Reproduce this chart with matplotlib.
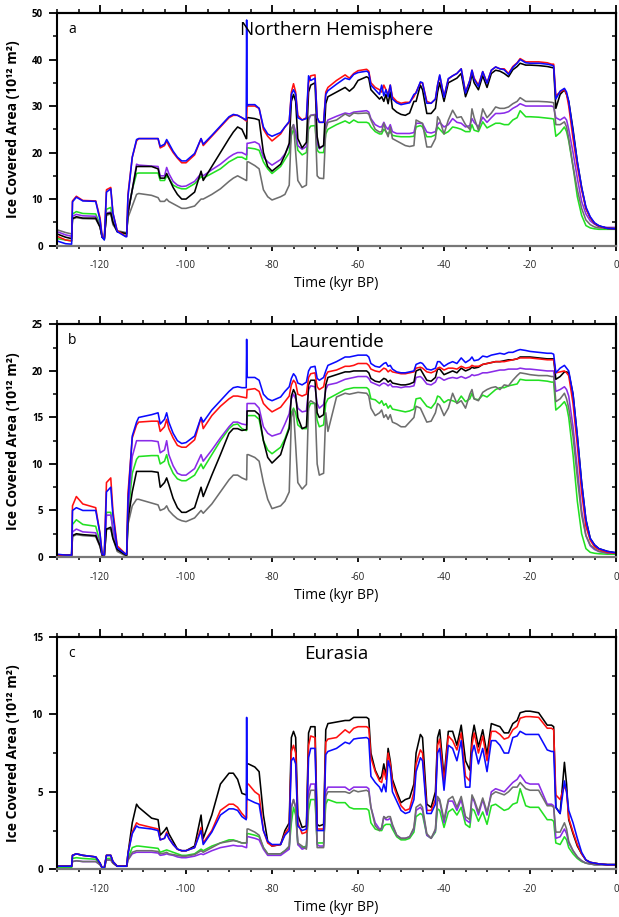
import matplotlib
matplotlib.use('Agg')
import matplotlib.pyplot as plt
from matplotlib.ticker import MultipleLocator

plt.rcParams['font.family'] = ['Open Sans', 'DejaVu Sans']
plt.rcParams['axes.unicode_minus'] = False

# time axis, kyr BP (shared by all three panels)
time_kyr = [
    -130, -128, -126.6, -126.4, -125.5, -124, -121, -120, -119.5, -119,
    -118.5, -117.5, -117, -116, -114, -113.8, -113.5, -112.5, -111.5, -111,
    -108, -106.5, -106, -105, -104.5, -104, -103, -102, -101, -100,
    -98, -96.5, -96, -94, -92, -90, -89, -88, -87, -86,
    -85.9, -85.8, -85.5, -84, -83, -82, -81, -80, -78, -77,
    -76, -75.5, -75, -74.5, -74, -73, -72, -71.5, -71, -70,
    -69.5, -69, -68, -67.5, -67, -65, -63, -62, -61, -60,
    -58, -57.5, -57, -56, -55, -54.5, -54, -53.5, -53, -52.5,
    -52, -51, -50, -49, -48, -47, -46.5, -45.5, -45, -44,
    -43, -42, -41.5, -41, -40, -39, -38, -37, -36, -35,
    -34, -33.5, -33, -32, -31, -30, -29, -28, -27, -26,
    -25, -24, -23, -22.3, -21, -20, -18, -16, -15, -14.5,
    -14, -13, -12, -11.5, -11, -10, -9, -8, -7, -6,
    -5, -4, -2, 0]

# ---- a: Northern Hemisphere ----
nh_red = [
    2.0, 1.2, 1.0, 9.6, 10.6, 9.7, 9.6, 6.0, 2.0, 1.5,
    12.0, 12.5, 7.0, 3.2, 2.0, 2.0, 11.0, 19.0, 22.5, 23.0,
    23.0, 23.0, 21.0, 21.5, 22.5, 21.5, 20.0, 18.8, 17.8, 17.8,
    19.5, 23.0, 21.5, 23.5, 25.5, 27.5, 28.0, 28.0, 27.5, 26.8,
    26.8, 30.0, 30.0, 30.0, 29.5, 25.0, 23.5, 22.5, 24.0, 25.5,
    26.5, 33.0, 34.8, 33.0, 28.0, 27.0, 27.5, 35.0, 36.5, 36.7,
    27.5, 26.5, 26.5, 33.0, 34.0, 35.5, 36.7, 36.0, 37.0, 37.6,
    37.9, 37.5, 35.0, 34.0, 33.5, 33.0, 34.5, 33.5, 32.5, 34.5,
    32.0, 31.0, 30.6, 30.8, 30.8, 32.0, 33.0, 35.0, 35.0, 31.0,
    30.6, 31.5, 34.5, 36.5, 32.0, 35.8, 36.5, 37.0, 38.0, 33.0,
    35.5, 37.7, 36.0, 34.5, 37.4, 35.0, 37.7, 38.4, 38.0, 38.0,
    37.0, 38.5, 39.3, 40.2, 39.5, 39.5, 39.5, 39.3, 39.0, 39.0,
    32.2, 33.0, 33.6, 32.5, 30.0, 23.0, 17.0, 12.0, 8.0, 6.0,
    4.8, 4.2, 3.7, 3.6]
nh_blue = [
    1.0, 0.4, 0.3, 9.4, 10.4, 9.6, 9.5, 5.5, 1.8, 1.2,
    11.5, 12.2, 7.0, 3.0, 1.9, 1.9, 10.5, 19.0, 22.8, 23.0,
    23.0, 23.0, 21.3, 21.8, 22.8, 22.0, 20.3, 19.0, 18.2, 18.2,
    19.8, 23.0, 21.8, 23.7, 25.7, 27.7, 28.2, 28.0, 27.5, 27.0,
    48.5, 30.0, 30.3, 30.3, 29.5, 25.5, 24.0, 23.5, 24.3, 25.5,
    26.7, 32.5, 33.5, 32.5, 27.5, 27.0, 27.3, 36.5, 35.5, 36.0,
    27.5, 26.5, 26.5, 32.5, 33.3, 34.7, 36.0, 35.7, 36.8, 37.2,
    37.5, 37.2, 34.5, 33.5, 32.5, 34.5, 32.2, 33.5, 32.0, 34.5,
    31.5, 30.7, 30.3, 30.5, 30.7, 32.5, 32.8, 35.2, 35.0, 30.6,
    30.6, 31.5, 34.5, 36.7, 31.9, 35.9, 36.5, 37.0, 38.0, 32.8,
    35.5, 37.7, 35.8, 34.2, 37.4, 34.9, 37.7, 38.4, 38.0, 37.8,
    36.8, 38.3, 39.2, 40.0, 39.3, 39.2, 39.2, 39.0, 38.8, 38.6,
    31.5, 33.2, 33.8, 33.0, 31.0, 24.5, 18.0, 12.5, 8.3, 6.2,
    4.9, 4.3, 3.7, 3.6]
nh_black = [
    2.5, 1.8, 1.5, 5.8, 6.2, 5.9, 5.9, 4.0, 1.8, 1.5,
    6.8, 7.0, 5.0, 3.0, 2.6, 2.6, 7.0, 12.0, 17.0, 17.0,
    17.0, 16.5, 14.5, 14.5, 15.5, 14.5, 12.5, 11.0, 10.0, 10.0,
    11.5, 16.0, 14.0, 17.0, 20.0, 23.0, 24.4, 25.5, 25.0, 23.0,
    23.0, 27.5, 27.5, 27.3, 27.0, 20.0, 17.0, 16.0, 17.5, 19.5,
    22.0, 31.0, 32.5, 31.0, 23.0, 21.0, 22.2, 33.0, 34.5, 35.0,
    23.4, 21.0, 21.5, 30.5, 32.0, 33.0, 34.0, 33.2, 34.0, 35.5,
    36.3, 36.0, 33.5, 32.5, 31.5, 32.0, 31.0, 32.5, 30.5, 33.0,
    29.5, 28.7, 28.2, 28.0, 28.5, 31.0, 31.0, 34.5, 33.5, 28.4,
    28.4, 29.5, 33.0, 35.0, 31.0, 35.0, 35.5, 36.0, 37.0, 32.0,
    34.5, 37.0, 35.0, 33.5, 36.5, 34.0, 37.0, 37.7, 37.5, 37.0,
    36.3, 37.8, 38.5, 39.2, 38.8, 38.8, 38.7, 38.5, 38.3, 38.2,
    29.5, 32.5, 33.5, 32.5, 31.0, 25.0, 18.0, 12.5, 8.0, 6.0,
    4.8, 4.2, 3.7, 3.6]
nh_purple = [
    3.0, 2.3, 2.0, 6.3, 6.7, 6.4, 6.3, 4.0, 1.8, 1.5,
    7.0, 7.2, 5.0, 3.0, 2.7, 2.7, 7.0, 12.0, 17.5, 17.3,
    17.1, 17.0, 15.0, 15.0, 16.8, 15.5, 13.8, 13.0, 12.7, 12.8,
    13.8, 15.5, 15.0, 16.3, 17.5, 19.0, 19.6, 20.0, 20.0, 19.5,
    19.5, 22.0, 22.0, 22.3, 21.8, 19.0, 18.0, 17.3, 18.5, 19.7,
    21.5, 25.0, 26.0, 24.5, 21.5, 20.7, 21.3, 27.0, 28.0, 28.2,
    22.0, 20.8, 21.5, 26.0, 27.0, 27.8, 28.5, 28.3, 28.7, 28.8,
    29.0, 28.7, 27.3, 26.0, 25.5, 25.5, 26.5, 25.5, 25.0, 26.0,
    24.5, 24.1, 24.1, 24.1, 24.1, 24.3, 26.3, 26.3, 26.2, 24.4,
    24.2, 24.5, 26.0, 26.5, 25.5, 26.0, 27.3, 26.5, 26.3, 25.5,
    25.8, 27.3, 26.5, 25.5, 27.6, 26.5, 27.5, 28.4, 28.4, 28.5,
    28.8, 29.5, 30.0, 30.5, 30.0, 30.0, 30.0, 30.0, 30.0, 29.8,
    27.5, 27.0, 27.6, 27.0, 25.0, 20.0, 14.5, 9.5, 6.8, 5.3,
    4.6, 4.1, 3.9, 3.9]
nh_green = [
    1.5, 1.2, 1.0, 6.8, 7.3, 6.9, 6.8, 4.5, 1.8, 1.3,
    7.8, 8.2, 5.0, 3.0, 2.5, 2.5, 7.0, 12.0, 15.5, 15.6,
    15.6, 15.6, 14.0, 14.0, 15.0, 14.5, 13.0, 12.5, 12.2, 12.2,
    13.3, 14.8, 14.5, 15.5, 16.5, 18.0, 18.5, 19.0, 19.0, 18.5,
    18.5, 21.0, 21.0, 20.8, 20.5, 18.0, 16.5, 15.5, 17.0, 18.5,
    20.0, 23.7, 25.0, 23.5, 20.5, 19.5, 20.0, 25.0, 25.7, 25.8,
    20.5, 20.0, 20.0, 24.0, 25.0, 26.0, 26.8, 26.3, 27.0, 26.5,
    26.5, 26.3, 25.5, 24.5, 24.0, 24.0, 25.0, 24.5, 24.0, 24.5,
    23.7, 23.5, 23.4, 23.4, 23.4, 23.5, 25.5, 25.8, 25.5, 23.4,
    23.4, 23.8, 25.5, 25.0, 24.0, 24.5, 25.5, 25.3, 25.0, 24.5,
    24.5, 26.0, 24.8, 24.5, 26.6, 25.3, 25.8, 26.3, 26.3, 26.0,
    26.0, 27.0, 27.5, 29.0, 27.7, 27.7, 27.6, 27.4, 27.3, 27.2,
    23.5, 24.3, 25.5, 24.5, 22.5, 17.0, 10.5, 6.5, 4.3, 3.8,
    3.6, 3.5, 3.5, 3.5]
nh_gray = [
    3.4, 2.8, 2.5, 5.7, 6.0, 5.8, 5.7, 4.0, 1.8, 1.5,
    6.5, 6.8, 4.5, 3.2, 2.8, 2.8, 6.0, 8.5, 11.0, 11.2,
    10.8, 10.3, 9.5, 9.5, 10.0, 9.5, 9.0, 8.5, 8.0, 8.0,
    8.5, 10.0, 10.0, 11.0, 12.2, 13.8, 14.5, 15.0, 14.5, 14.0,
    14.0, 18.0, 18.0, 17.2, 16.5, 12.0, 10.5, 9.8, 10.5, 11.0,
    13.0, 25.0, 26.0, 20.0, 14.0, 12.5, 13.0, 27.5, 28.0, 28.0,
    15.0, 14.5, 14.4, 25.0, 26.5, 27.0, 28.3, 27.8, 28.5, 28.4,
    28.5, 28.3, 27.0, 25.0, 24.4, 24.5, 26.3, 24.5, 23.4, 25.5,
    23.0, 22.5, 22.0, 21.5, 21.3, 21.5, 27.0, 26.5, 26.3, 21.2,
    21.2, 23.0, 27.7, 27.0, 24.0, 27.0, 29.1, 27.5, 27.7, 26.0,
    25.0, 29.4, 27.5, 24.8, 29.4, 27.5, 28.5, 29.8, 29.5, 29.5,
    29.8, 30.5, 31.0, 31.8, 31.0, 31.0, 31.0, 30.9, 30.8, 30.7,
    26.0, 26.0, 26.6, 25.5, 23.0, 17.0, 12.0, 8.0, 5.5, 4.5,
    4.0, 3.8, 3.7, 3.7]

# ---- b: Laurentide ----
lau_red = [
    0.2, 0.2, 0.2, 5.5, 6.5, 5.7, 5.3, 2.5, 0.3, 0.2,
    8.0, 8.5, 5.0, 1.2, 0.3, 0.3, 6.8, 12.8, 14.2, 14.5,
    14.6, 14.6, 13.5, 14.0, 14.8, 13.8, 12.8, 12.0, 11.8, 11.8,
    12.6, 15.0, 13.8, 15.2, 16.2, 17.0, 17.3, 17.3, 17.2, 17.1,
    17.1, 18.0, 18.0, 18.1, 17.8, 16.5, 16.0, 15.6, 16.1, 16.7,
    17.3, 18.5, 19.0, 18.7, 17.5, 17.3, 17.5, 19.3, 19.7, 19.8,
    18.3, 18.0, 18.3, 19.5, 19.9, 20.1, 20.5, 20.5, 20.6, 20.8,
    20.8, 20.6, 20.2, 20.0, 19.9, 20.1, 20.3, 20.2, 19.9, 20.1,
    19.9, 19.8, 19.7, 19.7, 19.8, 19.9, 20.3, 20.4, 20.3, 19.9,
    19.8, 20.0, 20.3, 20.4, 20.1, 20.3, 20.3, 20.2, 20.5, 20.3,
    20.4, 20.6, 20.5, 20.5, 20.7, 20.8, 20.9, 21.0, 21.0, 21.0,
    21.1, 21.2, 21.3, 21.4, 21.4, 21.4, 21.3, 21.2, 21.2, 21.2,
    19.8, 19.9, 20.0, 19.8, 19.5, 16.5, 12.0, 7.0, 3.3, 1.8,
    1.1, 0.8, 0.5, 0.4]
lau_blue = [
    0.3, 0.2, 0.2, 5.0, 5.3, 5.0, 5.0, 2.5, 0.3, 0.2,
    7.0, 7.5, 4.5, 1.0, 0.3, 0.3, 6.0, 13.0, 14.5, 15.0,
    15.3, 15.5, 14.3, 14.8, 15.5, 14.5, 13.3, 12.5, 12.2, 12.3,
    13.0, 15.0, 14.5, 15.8, 16.8, 17.8, 18.2, 18.3, 18.2, 18.2,
    23.4, 19.3, 19.3, 19.3, 19.0, 17.5, 17.0, 16.8, 17.2, 17.8,
    18.3, 19.2, 19.7, 19.4, 18.7, 18.5, 18.8, 20.0, 20.4, 20.5,
    19.2, 19.0, 19.3, 20.0, 20.6, 21.0, 21.5, 21.5, 21.6, 21.7,
    21.7, 21.5, 20.8, 20.5, 20.4, 20.6, 20.8, 20.9, 20.5, 20.6,
    20.2, 19.9, 19.8, 19.8, 19.9, 20.0, 20.7, 20.9, 20.8, 20.2,
    20.1, 20.3, 21.0, 21.0, 20.5, 20.8, 21.0, 20.8, 21.4, 20.9,
    21.2, 21.5, 21.1, 21.2, 21.6, 21.5, 21.7, 21.8, 21.9, 21.8,
    22.0, 22.0, 22.2, 22.3, 22.2, 22.1, 22.0, 21.9, 21.9, 21.8,
    19.8, 20.3, 20.6, 20.3, 20.0, 17.5, 13.0, 8.0, 4.0, 2.0,
    1.3, 0.9, 0.6, 0.45]
lau_black = [
    0.2, 0.2, 0.2, 2.3, 2.5, 2.4, 2.3, 1.2, 0.2, 0.2,
    3.0, 3.2, 2.0, 0.8, 0.2, 0.2, 4.0, 7.0, 9.2, 9.2,
    9.2, 9.1, 7.5, 8.0, 8.5, 7.8, 6.3, 5.3, 4.8, 4.8,
    5.3, 7.5, 6.5, 8.8, 11.0, 13.3, 13.8, 13.8, 13.6, 13.7,
    13.7, 15.7, 15.7, 15.7, 15.3, 12.5, 10.7, 10.1, 11.0, 12.5,
    13.8, 17.3, 18.0, 17.5, 15.0, 13.8, 14.0, 18.5, 19.0, 19.0,
    15.5, 15.0, 15.3, 18.5, 19.3, 19.6, 19.9, 19.9, 20.0, 20.0,
    20.0, 19.8, 19.2, 18.9, 18.8, 19.0, 19.2, 19.1, 18.8, 19.0,
    18.7, 18.6, 18.5, 18.5, 18.6, 18.8, 20.0, 20.2, 19.8, 19.0,
    18.9, 19.3, 20.2, 20.2, 19.6, 19.8, 20.0, 19.8, 20.3, 20.0,
    20.2, 20.4, 20.3, 20.4, 20.7, 20.8, 20.9, 21.0, 21.0, 21.1,
    21.2, 21.2, 21.3, 21.5, 21.5, 21.5, 21.4, 21.3, 21.3, 21.3,
    19.1, 19.4, 19.9, 19.9, 19.8, 17.5, 13.0, 8.0, 4.0, 2.0,
    1.3, 0.9, 0.6, 0.45]
lau_purple = [
    0.2, 0.2, 0.2, 2.7, 3.0, 2.7, 2.6, 1.3, 0.2, 0.2,
    4.5, 4.5, 3.0, 0.8, 0.2, 0.2, 5.0, 10.8, 12.5, 12.5,
    12.5, 12.4, 11.2, 11.5, 12.5, 11.0, 9.8, 9.0, 8.8, 8.8,
    9.5, 11.0, 10.3, 11.5, 12.8, 14.0, 14.5, 14.5, 14.3, 14.2,
    14.2, 16.5, 16.5, 16.5, 16.0, 14.0, 13.3, 13.0, 13.3, 14.3,
    15.4, 17.0, 17.5, 17.0, 16.0, 15.6, 15.7, 18.0, 18.4, 18.3,
    16.5, 16.0, 16.4, 18.0, 18.5, 18.7, 19.1, 19.2, 19.3, 19.4,
    19.4, 19.2, 18.8, 18.6, 18.4, 18.6, 18.7, 18.6, 18.4, 18.6,
    18.3, 18.3, 18.2, 18.3, 18.3, 18.4, 19.3, 19.4, 19.2, 18.6,
    18.5, 18.8, 19.3, 19.3, 19.0, 19.2, 19.3, 19.2, 19.4, 19.2,
    19.4, 19.6, 19.5, 19.6, 19.8, 19.8, 19.9, 20.0, 20.1, 20.1,
    20.2, 20.2, 20.2, 20.3, 20.2, 20.2, 20.1, 20.0, 20.0, 20.0,
    17.8, 18.0, 18.3, 18.0, 17.3, 14.0, 9.5, 5.0, 2.3, 1.2,
    0.8, 0.6, 0.4, 0.4]
lau_green = [
    0.2, 0.2, 0.2, 3.5, 4.0, 3.5, 3.3, 1.6, 0.2, 0.2,
    4.8, 4.8, 3.0, 0.8, 0.2, 0.2, 4.5, 9.0, 10.5, 10.8,
    10.9, 10.9, 10.0, 10.3, 11.0, 10.0, 9.0, 8.4, 8.2, 8.2,
    8.8, 10.0, 9.5, 11.0, 12.5, 13.8, 14.2, 14.3, 13.8, 13.6,
    13.6, 15.2, 15.2, 15.2, 14.8, 12.5, 11.5, 11.1, 11.8, 12.7,
    14.0, 15.5, 16.0, 15.5, 14.2, 13.8, 13.8, 16.0, 16.5, 16.5,
    14.7, 14.0, 14.2, 16.5, 17.0, 17.5, 18.0, 18.1, 18.2, 18.2,
    18.2, 18.0, 17.0, 16.9, 16.5, 16.8, 16.3, 16.5, 16.0, 16.3,
    15.9, 15.8, 15.7, 15.6, 15.7, 15.9, 17.0, 17.1, 16.8, 16.2,
    16.0, 16.6, 17.3, 17.2, 16.6, 16.9, 16.8, 16.6, 17.3, 16.7,
    17.0, 17.6, 17.0, 16.9, 17.4, 17.2, 17.6, 18.0, 18.2, 18.2,
    18.4, 18.5, 18.6, 19.1, 19.0, 19.0, 19.0, 18.9, 18.8, 18.8,
    15.8, 16.2, 16.7, 16.2, 15.0, 11.0, 6.0, 2.5, 0.9, 0.5,
    0.4, 0.35, 0.3, 0.3]
lau_gray = [
    0.1, 0.1, 0.1, 2.2, 2.4, 2.3, 2.2, 1.1, 0.1, 0.1,
    3.0, 3.0, 2.0, 0.6, 0.1, 0.1, 3.5, 5.5, 6.2, 6.2,
    5.8, 5.6, 5.0, 5.2, 5.5, 5.0, 4.5, 4.1, 3.9, 3.8,
    4.2, 5.0, 4.7, 5.7, 7.0, 8.3, 8.8, 8.8, 8.5, 8.3,
    8.3, 11.0, 11.0, 10.7, 10.3, 8.0, 6.2, 5.2, 5.5, 6.0,
    7.0, 15.0, 15.8, 12.0, 8.0, 7.3, 7.8, 16.5, 16.8, 16.5,
    10.0, 8.8, 9.0, 15.5, 13.5, 17.2, 17.6, 17.5, 17.6, 17.7,
    17.6, 17.3, 16.0, 15.2, 15.5, 15.8, 15.0, 15.3, 14.8, 15.3,
    14.5, 14.3, 14.0, 14.0, 14.5, 15.0, 16.2, 16.0, 15.5, 14.5,
    14.6, 15.5, 16.5, 16.3, 15.2, 16.0, 17.6, 16.5, 16.8, 16.0,
    17.5, 18.0, 17.0, 16.8, 17.7, 18.0, 18.2, 18.3, 18.0, 18.5,
    18.4, 19.0, 19.5, 19.8, 19.7, 19.6, 19.5, 19.5, 19.4, 19.4,
    16.7, 17.0, 17.6, 17.0, 16.0, 13.0, 8.5, 4.5, 2.3, 1.3,
    0.9, 0.6, 0.45, 0.4]

# ---- c: Eurasia ----
eur_red = [
    0.2, 0.2, 0.2, 0.9, 1.0, 0.9, 0.8, 0.4, 0.1, 0.1,
    0.9, 0.9, 0.5, 0.2, 0.2, 0.2, 1.0, 2.4, 3.0, 2.9,
    2.7, 2.6, 1.9, 2.0, 2.4, 2.0, 1.6, 1.3, 1.2, 1.2,
    1.4, 2.7, 1.7, 2.5, 3.8, 4.2, 4.2, 4.0, 3.6, 3.3,
    3.3, 5.5, 5.5, 5.0, 4.8, 2.5, 1.7, 1.5, 1.6, 2.3,
    2.7, 7.6, 8.0, 7.5, 3.0, 2.3, 2.4, 8.0, 8.6, 8.5,
    2.6, 2.6, 2.6, 8.2, 8.4, 8.5, 9.0, 8.8, 9.1, 9.2,
    9.2, 9.1, 7.2, 6.3, 5.7, 5.6, 6.4, 5.8, 7.5, 6.8,
    5.6, 4.8, 4.1, 3.8, 3.9, 5.0, 6.8, 7.7, 7.5, 3.8,
    3.8, 4.5, 8.0, 8.4, 5.6, 8.6, 8.3, 7.7, 8.8, 6.0,
    5.7, 8.0, 8.8, 7.5, 8.6, 7.0, 8.9, 8.9, 8.7, 8.4,
    8.5, 9.0, 9.2, 9.75, 9.85, 9.85, 9.8, 9.1, 9.1, 9.0,
    4.8, 4.5, 5.4, 5.0, 3.3, 2.4, 1.6, 1.0, 0.6, 0.45,
    0.4, 0.35, 0.3, 0.3]
eur_blue = [
    0.2, 0.2, 0.2, 0.9, 1.0, 0.9, 0.8, 0.4, 0.1, 0.1,
    0.9, 0.9, 0.5, 0.2, 0.2, 0.2, 1.0, 2.3, 2.8, 2.7,
    2.6, 2.5, 1.9, 2.0, 2.3, 2.0, 1.6, 1.3, 1.2, 1.2,
    1.4, 2.5, 1.6, 2.4, 3.5, 3.9, 3.9, 3.8, 3.4, 3.2,
    9.8, 4.5, 4.5, 4.3, 4.2, 2.5, 1.8, 1.6, 1.6, 2.2,
    2.5, 7.0, 7.2, 6.8, 2.8, 2.5, 2.6, 7.2, 7.8, 7.8,
    2.5, 2.5, 2.5, 7.4, 7.6, 7.8, 8.2, 8.1, 8.4, 8.45,
    8.5, 8.4, 6.0, 5.6, 5.3, 5.0, 5.5, 5.0, 7.0, 6.5,
    5.0, 4.4, 3.8, 3.6, 3.7, 4.5, 6.3, 7.2, 7.0, 3.6,
    3.6, 4.2, 7.5, 7.8, 5.1, 8.0, 7.8, 7.0, 8.3, 5.3,
    5.3, 7.5, 8.0, 6.8, 7.8, 6.3, 8.3, 8.3, 8.0, 7.5,
    7.5, 8.5, 8.6, 8.9, 8.7, 8.7, 8.7, 7.7, 7.6, 7.6,
    4.0, 3.6, 5.7, 5.0, 3.8, 3.0, 2.0, 1.1, 0.6, 0.45,
    0.4, 0.35, 0.3, 0.3]
eur_black = [
    0.2, 0.2, 0.2, 0.9, 1.0, 0.9, 0.8, 0.4, 0.1, 0.1,
    0.9, 0.9, 0.5, 0.2, 0.2, 0.2, 1.0, 3.0, 4.2, 4.0,
    3.3, 3.2, 2.2, 2.5, 2.7, 2.3, 1.8, 1.3, 1.2, 1.2,
    1.5, 3.5, 2.0, 3.5, 5.5, 6.2, 6.2, 5.8, 4.9, 4.8,
    4.8, 6.8, 6.8, 6.6, 6.3, 3.5, 1.8, 1.5, 1.6, 2.5,
    3.0, 8.5, 8.9, 8.5, 3.5, 2.7, 2.8, 8.8, 9.2, 9.2,
    2.9, 2.8, 2.9, 9.0, 9.4, 9.5, 9.6, 9.6, 9.8, 9.8,
    9.8, 9.7, 7.5, 6.4, 5.8, 6.0, 6.8, 6.0, 7.8, 7.0,
    5.8, 5.0, 4.3, 4.5, 4.6, 5.5, 7.5, 8.7, 8.5, 4.2,
    4.0, 5.0, 8.5, 9.0, 5.9, 8.9, 8.9, 8.0, 9.3, 7.0,
    6.4, 8.5, 9.3, 7.9, 9.0, 7.4, 9.4, 9.3, 9.2, 8.8,
    8.8, 9.4, 9.6, 10.1, 10.2, 10.2, 10.1, 9.3, 9.3, 9.2,
    4.0, 3.6, 6.9, 5.5, 3.2, 2.3, 1.5, 1.0, 0.6, 0.45,
    0.4, 0.35, 0.3, 0.3]
eur_purple = [
    0.2, 0.2, 0.2, 0.5, 0.55, 0.5, 0.5, 0.3, 0.1, 0.1,
    0.6, 0.6, 0.4, 0.2, 0.2, 0.2, 0.6, 1.0, 1.1, 1.1,
    1.1, 1.05, 0.9, 0.95, 1.0, 0.95, 0.9, 0.8, 0.75, 0.75,
    0.85, 1.0, 0.95, 1.2, 1.4, 1.5, 1.55, 1.5, 1.5, 1.4,
    1.4, 2.1, 2.1, 2.0, 1.9, 1.3, 0.9, 0.9, 0.9, 1.1,
    1.3, 4.0, 4.5, 4.0, 1.6, 1.3, 1.4, 5.0, 5.5, 5.5,
    1.6, 1.5, 1.5, 5.0, 5.3, 5.3, 5.3, 5.1, 5.3, 5.3,
    5.3, 5.2, 4.0, 3.0, 2.6, 2.6, 3.4, 3.2, 3.2, 3.3,
    2.8, 2.2, 2.0, 2.0, 2.1, 2.6, 3.8, 4.0, 3.8, 2.2,
    2.0, 2.5, 4.5, 4.4, 3.0, 4.4, 4.4, 3.8, 4.5, 3.2,
    3.0, 4.6, 4.4, 3.5, 4.5, 3.5, 5.0, 5.2, 5.1, 5.0,
    5.3, 5.6, 5.8, 6.1, 5.6, 5.5, 5.5, 4.2, 4.2, 4.1,
    2.0, 2.1, 2.6, 2.3, 1.7, 1.2, 0.8, 0.55, 0.4, 0.35,
    0.3, 0.3, 0.3, 0.3]
eur_green = [
    0.1, 0.1, 0.1, 0.7, 0.75, 0.7, 0.65, 0.3, 0.1, 0.1,
    0.7, 0.7, 0.4, 0.2, 0.2, 0.2, 0.7, 1.4, 1.5, 1.5,
    1.4, 1.35, 1.1, 1.2, 1.25, 1.2, 1.1, 1.0, 0.9, 0.9,
    1.0, 1.3, 1.2, 1.5, 1.7, 1.9, 1.9, 1.8, 1.7, 1.7,
    1.7, 2.3, 2.3, 2.2, 2.1, 1.4, 1.0, 1.0, 1.0, 1.2,
    1.4, 3.0, 4.0, 3.5, 1.6, 1.4, 1.5, 3.8, 4.5, 4.5,
    1.7, 1.7, 1.7, 4.2, 4.5, 4.3, 4.3, 4.0, 3.9, 3.9,
    3.9, 3.8, 3.0, 2.6, 2.5, 2.5, 2.8, 2.9, 2.9, 2.9,
    2.6, 2.1, 1.9, 1.9, 2.0, 2.4, 3.4, 3.6, 3.5, 2.2,
    2.0, 2.4, 3.9, 3.8, 2.7, 3.7, 3.9, 3.5, 4.0, 2.9,
    2.7, 3.9, 3.8, 3.1, 3.7, 2.9, 4.1, 4.2, 4.0, 3.8,
    3.9, 4.2, 4.3, 5.2, 4.1, 4.0, 4.0, 3.2, 3.2, 3.1,
    1.7, 1.6, 2.1, 1.9, 1.4, 1.0, 0.7, 0.5, 0.4, 0.35,
    0.3, 0.3, 0.3, 0.3]
eur_gray = [
    0.2, 0.2, 0.2, 0.5, 0.55, 0.5, 0.5, 0.3, 0.1, 0.1,
    0.6, 0.6, 0.4, 0.2, 0.2, 0.2, 0.6, 1.1, 1.2, 1.2,
    1.2, 1.15, 1.0, 1.05, 1.1, 1.0, 0.95, 0.9, 0.85, 0.85,
    0.95, 1.2, 1.1, 1.4, 1.7, 1.8, 1.85, 1.8, 1.7, 1.7,
    1.7, 2.6, 2.6, 2.4, 2.2, 1.4, 1.0, 1.0, 1.0, 1.2,
    1.5, 4.0, 4.5, 4.0, 1.7, 1.5, 1.3, 4.5, 5.1, 5.1,
    1.4, 1.4, 1.4, 4.7, 5.0, 5.0, 5.0, 4.9, 5.1, 5.0,
    5.1, 5.0, 4.0, 2.8, 2.5, 2.7, 3.4, 3.3, 3.4, 3.4,
    2.9, 2.2, 2.0, 2.0, 2.1, 2.7, 4.0, 4.2, 4.0, 2.3,
    2.0, 2.6, 4.7, 4.5, 3.2, 4.5, 4.7, 4.0, 4.7, 3.4,
    3.2, 4.8, 4.5, 3.7, 4.6, 3.7, 4.8, 5.0, 4.9, 4.8,
    5.0, 5.3, 5.3, 5.6, 5.2, 5.1, 5.1, 4.1, 4.1, 4.0,
    2.4, 2.4, 3.0, 2.6, 1.8, 1.2, 0.8, 0.55, 0.4, 0.35,
    0.3, 0.3, 0.3, 0.3]

colors = {'green': '#22e022', 'purple': '#8a2be8', 'gray': '#6e6e6e',
          'black': '#000000', 'red': '#ff1010', 'blue': '#0a0aff'}
draw_order = ['green', 'purple', 'gray', 'black', 'red', 'blue']

panels = [
    ('a', 'Northern Hemisphere', 50, 10, 5,
     {'red': nh_red, 'blue': nh_blue, 'black': nh_black,
      'purple': nh_purple, 'green': nh_green, 'gray': nh_gray}),
    ('b', 'Laurentide', 25, 5, 2.5,
     {'red': lau_red, 'blue': lau_blue, 'black': lau_black,
      'purple': lau_purple, 'green': lau_green, 'gray': lau_gray}),
    ('c', 'Eurasia', 15, 5, 2.5,
     {'red': eur_red, 'blue': eur_blue, 'black': eur_black,
      'purple': eur_purple, 'green': eur_green, 'gray': eur_gray}),
]

fig = plt.figure(figsize=(6.19, 9.17), dpi=100)
bottoms = [0.7322, 0.3926, 0.0520]

for (letter, title, ymax, ymaj, ymin_, series), bot in zip(panels, bottoms):
    ax = fig.add_axes([0.0921, bot, 0.9031, 0.2536])
    for name in draw_order:
        assert len(series[name]) == len(time_kyr), (letter, name)
        ax.plot(time_kyr, series[name], color=colors[name], lw=1.15)

    ax.set_xlim(-130, 0)
    ax.set_ylim(0, ymax)
    ax.xaxis.set_major_locator(MultipleLocator(20))
    ax.xaxis.set_minor_locator(MultipleLocator(5))
    ax.yaxis.set_major_locator(MultipleLocator(ymaj))
    ax.yaxis.set_minor_locator(MultipleLocator(ymin_))
    ax.tick_params(axis='x', which='major', direction='out', length=3.5,
                   width=1.3, labelsize=7, pad=7, labelcolor='#222222')
    ax.tick_params(axis='x', which='minor', direction='out', length=2.5, width=1.1)
    ax.tick_params(axis='y', which='major', direction='out', length=6,
                   width=1.3, labelsize=7, pad=4)
    ax.tick_params(axis='y', which='minor', direction='out', length=3, width=1.1)
    for lab in ax.get_yticklabels():
        lab.set_fontweight('bold')
    for side in ['left', 'right', 'top']:
        ax.spines[side].set_linewidth(1.5)
    ax.spines['bottom'].set_linewidth(1.6)
    ax.spines['bottom'].set_color('#777777')

    top = ax.secondary_xaxis('top')
    top.xaxis.set_major_locator(MultipleLocator(20))
    top.xaxis.set_minor_locator(MultipleLocator(5))
    top.tick_params(which='major', direction='out', length=5.5, width=1.3, labeltop=False)
    top.tick_params(which='minor', direction='out', length=3, width=1.1)
    top.spines['top'].set_linewidth(1.5)

    right = ax.secondary_yaxis('right')
    right.yaxis.set_major_locator(MultipleLocator(ymin_))
    right.tick_params(which='major', direction='in', length=3, width=1.1, labelright=False)
    right.spines['right'].set_linewidth(1.5)

    ax.set_ylabel('Ice Covered Area (10¹² m²)', fontsize=10, fontweight='bold')
    ax.yaxis.set_label_coords(-0.066, 0.5)
    ax.set_xlabel('Time (kyr BP)', fontsize=10)
    ax.xaxis.set_label_coords(0.5, -0.165)
    ax.xaxis.label.set_va('center')

    ax.text(0.02, 0.93, letter, transform=ax.transAxes, fontsize=10,
            ha='left', va='center')
    ax.text(0.5, 0.925, title, transform=ax.transAxes, fontsize=13.5,
            ha='center', va='center')

fig.savefig('out.png', dpi=100)
